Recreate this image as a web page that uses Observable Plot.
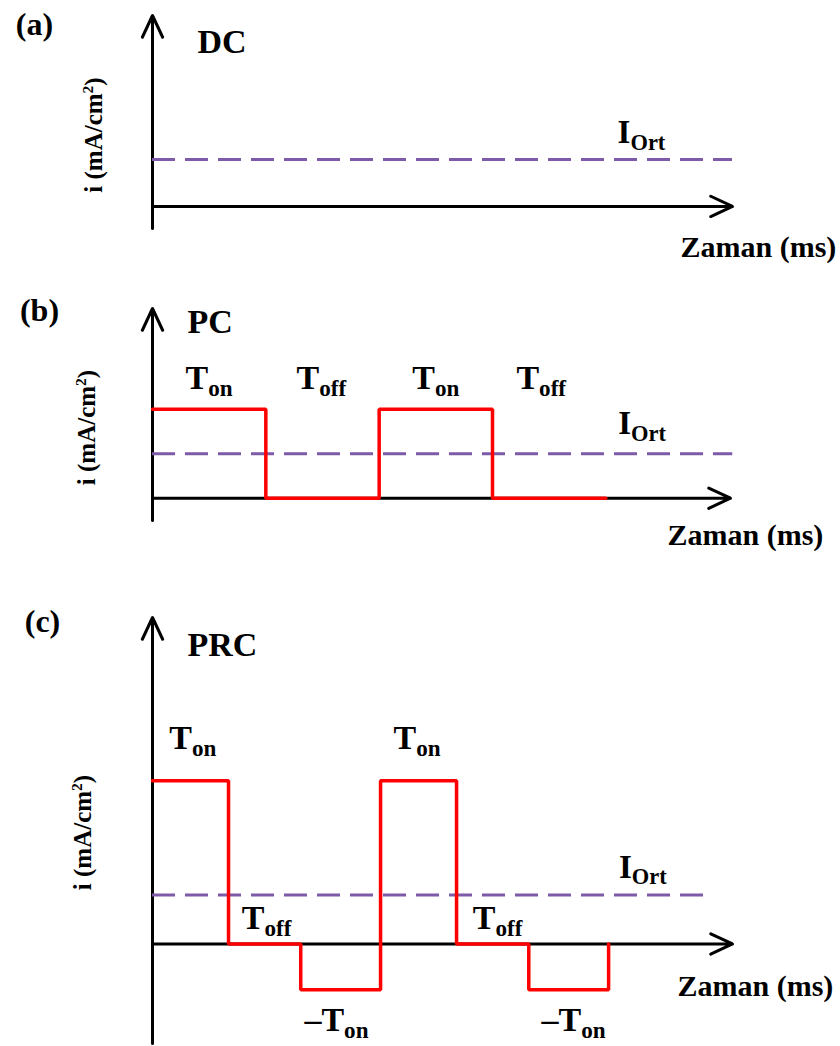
<!DOCTYPE html>
<html><head><meta charset="utf-8">
<script src="https://cdn.jsdelivr.net/npm/d3@7"></script>
<script src="https://cdn.jsdelivr.net/npm/@observablehq/plot@0.6"></script>
<style>
html,body{margin:0;padding:0;background:#fff;}
#chart{position:relative;width:840px;height:1046px;overflow:hidden;background:#fff;}
.panel{position:absolute;left:0;}
</style></head><body><div id="chart"></div>
<script>
// ---------------- data ----------------
const panelLetters = ["(a)", "(b)", "(c)"];
const panelTitles = ["DC", "PC", "PRC"];
const xLabel = "Zaman (ms)";
const yLabel = "i (mA/cm^{2})";
const avgLabel = "I_{Ort}";

// (a) DC current
const dcXDomain = [0, 10];
const dcYDomain = [-0.47, 4.06];
const dcAverage = 1.0;
const dcAverageEnd = 10.0;
const dcAvgLabelPos = [8.43, 1.57];

// (b) pulsed current
const pcXDomain = [0, 5.1];
const pcYDomain = [-0.25, 2.13];
const pcTimes  = [0, 1, 2, 3, 4];
const pcLevels = [1, 0, 1, 0, 0];
const pcAverage = 0.5;
const pcAverageEnd = 5.12;
const pcAvgLabelPos = [4.32, 0.84];
const pcLabelText = ["T_{on}", "T_{off}", "T_{on}", "T_{off}"];
const pcLabelT    = [0.5, 1.49, 2.5, 3.43];
const pcLabelI    = [1.35, 1.35, 1.35, 1.35];

// (c) pulsed reverse current
const prcXDomain = [0, 7.63];
const prcYDomain = [-0.61, 2.0];
const prcTimes  = [0, 1, 1.95, 3, 4, 4.95, 6, 6];
const prcLevels = [1, 0, -0.28, 1, 0, -0.28, -0.28, 0];
const prcAverage = 0.3;
const prcAverageEnd = 7.32;
const prcAvgLabelPos = [6.45, 0.47];
const prcLabelText = ["T_{on}", "T_{off}", "–T_{on}", "T_{on}", "T_{off}", "–T_{on}"];
const prcLabelT    = [0.53, 1.5, 2.42, 3.48, 4.54, 5.54];
const prcLabelI    = [1.26, 0.16, -0.466, 1.26, 0.16, -0.466];

// ---------------- styles ----------------
const FONT = "'Liberation Serif', 'Times New Roman', serif";
const RED = "#ff0000";
const PURPLE = "#7e5ba8";
const txt = {fontFamily: FONT, fontWeight: "bold", fill: "#000"};

function richText(svg) {
  const NS = "http://www.w3.org/2000/svg";
  for (const t of svg.querySelectorAll("text")) {
    const s = t.textContent;
    if (!/[_^]\{/.test(s)) continue;
    const fs = parseFloat(getComputedStyle(t).fontSize);
    const parts = s.split(/([_^]\{[^}]*\})/).filter(p => p);
    t.textContent = "";
    let shift = 0;
    for (const p of parts) {
      const ts = document.createElementNS(NS, "tspan");
      let target = 0, size = null, str = p;
      if (p[0] === "_") { target = 0.2 * fs; size = 0.68 * fs; str = p.slice(2, -1); }
      else if (p[0] === "^") { target = -0.36 * fs; size = 0.62 * fs; str = p.slice(2, -1); }
      if (target !== shift) { ts.setAttribute("dy", target - shift); shift = target; }
      if (size) ts.setAttribute("font-size", size);
      ts.textContent = str;
      t.appendChild(ts);
    }
  }
}

function axesMarks(xDomain, yDomain) {
  const opts = {x1: "x1", y1: "y1", x2: "x2", y2: "y2", stroke: "#000", strokeWidth: 3, headLength: 12, headAngle: 50};
  return [
    Plot.arrow([{x1: xDomain[0], y1: yDomain[0], x2: xDomain[0], y2: yDomain[1]}], opts),
    Plot.arrow([{x1: xDomain[0], y1: 0, x2: xDomain[1], y2: 0}], opts)
  ];
}

function frameTexts(i, xDomain, o) {
  return [
    Plot.text([panelLetters[i]], {...txt, text: d => d, frameAnchor: "top-left", textAnchor: "middle", lineAnchor: "middle",
      fontSize: 32, dx: o.letter[0], dy: o.letter[1]}),
    Plot.text([panelTitles[i]], {...txt, text: d => d, frameAnchor: "top-left", textAnchor: "start", lineAnchor: "middle",
      fontSize: 34, dx: o.title[0], dy: o.title[1]}),
    Plot.text([yLabel], {...txt, text: d => d, frameAnchor: "left", textAnchor: "middle", lineAnchor: "middle",
      rotate: -90, fontSize: 25, dx: o.ylab[0], dy: o.ylab[1]}),
    Plot.text([{t: xDomain[1], v: 0, s: xLabel}], {...txt, x: "t", y: "v", text: "s", textAnchor: "start", lineAnchor: "middle",
      fontSize: 30, dx: o.xlab[0], dy: o.xlab[1]})
  ];
}

function makePanel(top, height, margins, xDomain, yDomain, marks) {
  const svg = Plot.plot({
    width: 840, height,
    marginTop: margins[0], marginRight: margins[1], marginBottom: margins[2], marginLeft: margins[3],
    x: {domain: xDomain, axis: null},
    y: {domain: yDomain, axis: null},
    style: {background: "transparent", overflow: "visible"},
    marks
  });
  const div = document.createElement("div");
  div.className = "panel";
  div.style.top = top + "px";
  div.appendChild(svg);
  document.getElementById("chart").appendChild(div);
  richText(svg);
}

function avgMarks(avg, end, pos) {
  return [
    Plot.ruleY([avg], {x1: 0, x2: end, stroke: PURPLE, strokeWidth: 3, strokeDasharray: "23,10"}),
    Plot.text([{t: pos[0], v: pos[1], s: avgLabel}], {...txt, x: "t", y: "v", text: "s", fontSize: 33, lineAnchor: "middle"})
  ];
}

// (a)
makePanel(0, 270, [15, 108, 42, 152], dcXDomain, dcYDomain, [
  ...axesMarks(dcXDomain, dcYDomain),
  ...avgMarks(dcAverage, dcAverageEnd, dcAvgLabelPos),
  ...frameTexts(0, dcXDomain, {letter: [-118, 9], title: [45, 27], ylab: [-59, 13], xlab: [-52, 41]})
]);

// (b)
makePanel(280, 280, [28, 110, 40, 152], pcXDomain, pcYDomain, [
  ...axesMarks(pcXDomain, pcYDomain),
  ...avgMarks(pcAverage, pcAverageEnd, pcAvgLabelPos),
  Plot.line(pcTimes, {x: pcTimes, y: pcLevels, curve: "step-after", stroke: RED, strokeWidth: 3.5, strokeLinejoin: "miter"}),
  Plot.text(pcLabelText, {...txt, x: pcLabelT, y: pcLabelI, text: pcLabelText, fontSize: 34, lineAnchor: "middle"}),
  ...frameTexts(1, pcXDomain, {letter: [-113, 2], title: [35, 14], ylab: [-66, 13], xlab: [-63, 37]})
]);

// (c)
makePanel(580, 466, [37, 108, 3, 152], prcXDomain, prcYDomain, [
  ...axesMarks(prcXDomain, prcYDomain),
  ...avgMarks(prcAverage, prcAverageEnd, prcAvgLabelPos),
  Plot.line(prcTimes, {x: prcTimes, y: prcLevels, curve: "step-after", stroke: RED, strokeWidth: 3.5, strokeLinejoin: "miter"}),
  Plot.text(prcLabelText, {...txt, x: prcLabelT, y: prcLabelI, text: prcLabelText, fontSize: 34, lineAnchor: "middle"}),
  ...frameTexts(2, prcXDomain, {letter: [-110, 4], title: [35, 28], ylab: [-70, 2], xlab: [-55, 42]})
]);
</script>
</body></html>
